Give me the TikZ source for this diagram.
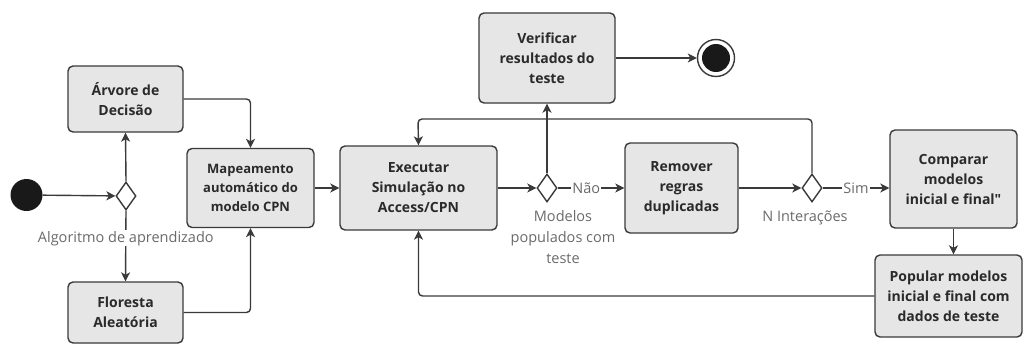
\documentclass[tikz,border=0pt]{standalone}
\usepackage{fontspec}
\setmainfont{Open Sans}
\usetikzlibrary{shapes.geometric,arrows.meta}
\definecolor{boxfill}{HTML}{E6E6E6}
\definecolor{edgec}{HTML}{3A3A3A}
\definecolor{txt}{HTML}{2A2A2A}
\definecolor{lbl}{HTML}{6A6A6A}
\begin{document}
\begin{tikzpicture}[x=1pt,y=-1pt,
  box/.style={draw=edgec,fill=boxfill,rounded corners=5pt,line width=1.4pt,align=center,text=txt,font=\fontsize{14}{20}\selectfont\bfseries,inner sep=2pt},
  flow/.style={draw=edgec,line width=1.4pt,-{Stealth[length=9pt,width=9pt,inset=2.5pt]}},
  dec/.style={diamond,draw=edgec,fill=white,line width=1.4pt,minimum width=20pt,minimum height=28pt,inner sep=0pt},
  lab/.style={text=lbl,font=\fontsize{14.5}{21}\selectfont,align=center,fill=white,inner sep=1pt}]
\useasboundingbox (0,0) rectangle (1024,345);
% nodes
\node[circle,fill=black!90,minimum size=32pt,inner sep=0pt] (start) at (26.5,195) {};
\node[dec] (d1) at (126,196) {};
\node[box,minimum width=115pt,minimum height=66pt] (arv) at (125.5,99) {Árvore de\\Decisão};
\node[box,minimum width=115pt,minimum height=61pt] (flo) at (125.5,312.5) {Floresta\\Aleatória};
\node[box,minimum width=127pt,minimum height=79pt,font=\fontsize{13}{19}\selectfont\bfseries] (map) at (250.5,188) {Mapeamento\\automático do\\modelo CPN};
\node[box,minimum width=157pt,minimum height=84pt] (exec) at (418.5,188) {Executar\\Simulação no\\Access/CPN};
\node[dec] (d2) at (547,188) {};
\node[box,minimum width=136pt,minimum height=90pt] (verif) at (547,58) {Verificar\\resultados do\\teste};
\node[circle,draw=edgec,line width=1.4pt,fill=white,minimum size=37pt,inner sep=0pt] (end) at (716,58) {};
\node[circle,fill=black!90,minimum size=28pt,inner sep=0pt] (endin) at (end) {};
\node[box,minimum width=113pt,minimum height=90pt] (rem) at (681.5,188) {Remover\\regras\\duplicadas};
\node[dec] (d3) at (812,188) {};
\node[box,minimum width=127pt,minimum height=98pt] (comp) at (953.5,179) {Comparar\\modelos\\inicial e final\textquotedbl};
\node[box,minimum width=147pt,minimum height=82pt] (pop) at (948.5,296) {Popular modelos\\inicial e final com\\dados de teste};
\coordinate (loop) at (418,119);
% connectors
\draw[flow] (start) -- (d1);
\draw[flow] (d1.north) -- (arv.south);
\draw[flow] (d1.south) -- node[lab,pos=0.39] (l1) {Algoritmo de aprendizado} (flo.north);
\draw[flow,rounded corners=4pt] (arv.east) -| (map.north);
\draw[flow,rounded corners=4pt] (flo.east) -| (map.south);
\draw[flow] (map.east) -- (exec.west);
\draw[flow] (exec.east) -- (d2.west);
\draw[flow] (d2.north) -- (verif.south);
\draw[flow] (verif.east) -- (end.west);
\draw[flow] (d2.east) -- node[lab,pos=0.43] (l2) {Não} (rem.west);
\draw[flow] (rem.east) -- (d3.west);
\draw[flow,rounded corners=4pt] (d3.north) |- (loop) -- (exec.north);
\draw[flow] (d3.east) -- node[lab,pos=0.5] (l3) {Sim} (d3.east -| comp.west);
\draw[flow] (comp.south) -- (comp.south |- pop.north);
\draw[flow,rounded corners=4pt] (pop.west) -| (exec.south);
% labels
\node[lab,fill=none] (l4) at (563,237) {Modelos\\populados com\\teste};
\node[lab,fill=none] (l5) at (805,218) {N Interações};
\end{tikzpicture}
\end{document}
